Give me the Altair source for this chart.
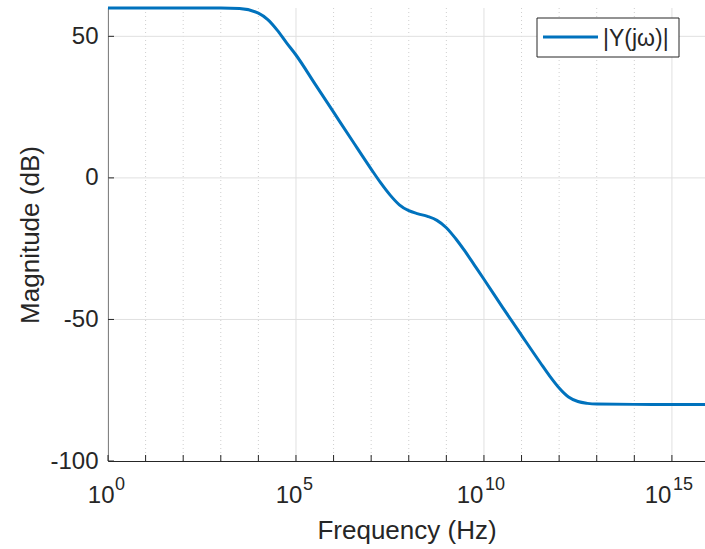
import altair as alt
import pandas as pd

# Exponent of frequency (decades) and magnitude in dB
decades = [0, 1, 2, 3, 3.5, 4, 4.25, 4.5, 4.75, 5, 5.5, 6, 6.5, 7, 7.25, 7.5, 7.75, 8,
           8.25, 8.5, 8.75, 9, 9.25, 9.5, 9.75, 10, 10.5, 11, 11.5, 11.75, 12, 12.25,
           12.5, 12.75, 13, 14, 15, 15.88]
magnitude = [60, 60, 60, 60, 59.8, 58.2, 55.9, 52.2, 47.7, 43.4, 33.3, 23.2, 13.1, 3.1,
             -1.7, -6.0, -9.5, -11.6, -12.7, -13.6, -15.0, -17.6, -21.5, -26.0, -30.9,
             -35.8, -45.8, -55.6, -65.3, -70.0, -74.2, -77.4, -79.0, -79.65, -79.9, -80,
             -80, -80]
series_name = "|Y(jω)|"

x_major = [0, 5, 10, 15]
x_minor = [1, 2, 3, 4, 6, 7, 8, 9, 11, 12, 13, 14]
x_ticks = list(range(0, 16))
y_ticks = [-100, -50, 0, 50]
y_grid = [-50, 0, 50]

X_MAX = 10 ** 15.88
W, H = 597, 453
FONT = "Liberation Sans"
TXT = "#262626"
BLUE = "#0072BD"

curve = pd.DataFrame({"f": [10 ** d for d in decades], "mag": magnitude, "s": series_name})

xscale = alt.Scale(type="log", domain=[1, X_MAX], nice=False)
yscale = alt.Scale(domain=[-100, 60], nice=False)

X_AXIS = alt.Axis(values=[10 ** d for d in x_major], labelExpr="'10'", grid=False,
                  ticks=False, title="Frequency (Hz)", labelFlush=False,
                  labelAlign="right",
                  labelOffset={"condition": {"test": "datum.value < 1e8", "value": 6},
                               "value": -1})
Y_AXIS = alt.Axis(values=y_ticks, labelExpr="toString(datum.value)", grid=False,
                  ticks=False, title="Magnitude (dB)", labelFlush=False)

minor_df = pd.DataFrame({"f": [10 ** d for d in x_minor]})
major_df = pd.DataFrame({"f": [10 ** d for d in x_major], "e": [str(d) for d in x_major]})
xtick_df = pd.DataFrame({"f": [10 ** d for d in x_ticks]})
ygrid_df = pd.DataFrame({"y": y_grid})
ytick_df = pd.DataFrame({"y": y_ticks})

line = alt.Chart(curve).mark_line(strokeWidth=3, interpolate="monotone", clip=False).encode(
    x=alt.X("f:Q", scale=xscale, axis=X_AXIS),
    y=alt.Y("mag:Q", scale=yscale, axis=Y_AXIS),
    color=alt.Color("s:N", scale=alt.Scale(domain=[series_name], range=[BLUE]), legend=None),
)

minor_grid = alt.Chart(minor_df).mark_rule(color="#cfcfcf", strokeWidth=1, strokeDash=[1, 3]).encode(
    x=alt.X("f:Q", scale=xscale, axis=X_AXIS), y=alt.value(0), y2=alt.value(H))
major_grid = alt.Chart(major_df).mark_rule(color="#e0e0e0", strokeWidth=1).encode(
    x=alt.X("f:Q", scale=xscale, axis=X_AXIS), y=alt.value(0), y2=alt.value(H))
hgrid = alt.Chart(ygrid_df).mark_rule(color="#e0e0e0", strokeWidth=1).encode(
    y=alt.Y("y:Q", scale=yscale, axis=Y_AXIS), x=alt.value(0), x2=alt.value(W))
xticks = alt.Chart(xtick_df).mark_rule(color=TXT, strokeWidth=1).encode(
    x=alt.X("f:Q", scale=xscale, axis=X_AXIS), y=alt.value(H), y2=alt.value(H - 6))
yticks = alt.Chart(ytick_df).mark_rule(color=TXT, strokeWidth=1).encode(
    y=alt.Y("y:Q", scale=yscale, axis=Y_AXIS), x=alt.value(0), x2=alt.value(6))
# exponents of the x tick labels (10^e)
xexp1 = alt.Chart(major_df).transform_filter("datum.f < 1e8").mark_text(
    align="left", baseline="alphabetic", fontSize=18, font=FONT, color=TXT, dx=7).encode(
    x=alt.X("f:Q", scale=xscale, axis=X_AXIS), y=alt.value(H + 29), text="e:N")
xexp2 = alt.Chart(major_df).transform_filter("datum.f >= 1e8").mark_text(
    align="left", baseline="alphabetic", fontSize=18, font=FONT, color=TXT, dx=1).encode(
    x=alt.X("f:Q", scale=xscale, axis=X_AXIS), y=alt.value(H + 29), text="e:N")

leg_df = pd.DataFrame({"s": [series_name]})
leg_box = alt.Chart(leg_df).mark_rect(fill="white", stroke=TXT, strokeWidth=1).encode(
    x=alt.value(429), x2=alt.value(571), y=alt.value(10), y2=alt.value(49))
leg_line = alt.Chart(leg_df).mark_rule(color=BLUE, strokeWidth=3).encode(
    x=alt.value(435), x2=alt.value(490), y=alt.value(29))
leg_text = alt.Chart(leg_df).mark_text(align="left", baseline="middle", fontSize=23,
                                       font=FONT, color=TXT).encode(
    text="s:N", x=alt.value(495), y=alt.value(31))

chart = alt.layer(minor_grid, major_grid, hgrid, line, xticks, yticks, xexp1, xexp2,
                  leg_box, leg_line, leg_text).properties(
    width=W, height=H, autosize=alt.AutoSizeParams(type="none"),
    padding={"left": 108, "top": 8, "right": 0, "bottom": 88},
    background="white",
).configure_view(stroke=None).configure_axis(
    labelFont=FONT, titleFont=FONT, labelColor=TXT, titleColor=TXT,
    domainColor=TXT, domainWidth=1, titleFontWeight="normal",
    labelFontSize=24, titleFontSize=26,
).configure_axisX(
    labelPadding=22, titlePadding=10,
).configure_axisY(
    labelPadding=10, titlePadding=6,
)

chart.save("out.html", embed_options={"renderer": "svg", "actions": False})
